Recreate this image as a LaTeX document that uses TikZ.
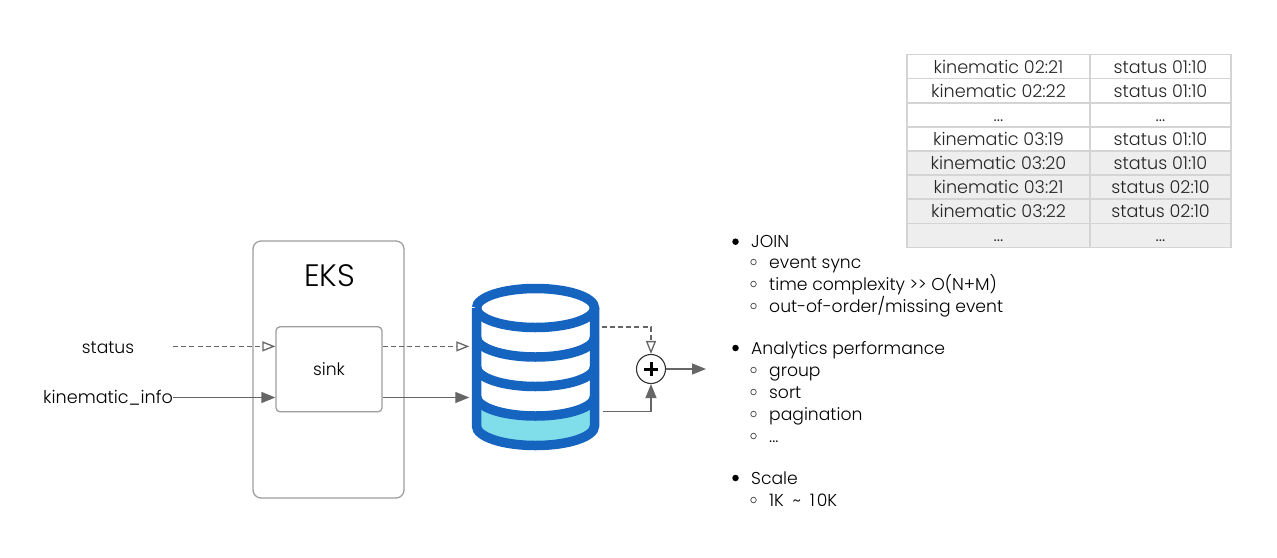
\documentclass[tikz,border=0pt]{standalone}
\usepackage{fontspec}
\setmainfont{Poppins Light}
\usetikzlibrary{arrows.meta}
\definecolor{arrowgray}{HTML}{666666}
\definecolor{boxgray}{HTML}{9E9E9E}
\definecolor{cellline}{HTML}{D4D4D4}
\definecolor{cellfill}{HTML}{EEEEEE}
\definecolor{dbblue}{HTML}{1565C0}
\definecolor{dbcyan}{HTML}{80DEEA}
\newcommand{\tdots}{{.}{.}{.}}
\tikzset{
  x=1pt,y=-1pt,
  conn/.style={draw=arrowgray,line width=1.3pt},
  solidarrow/.style={conn,-{Triangle[length=14pt,width=11pt,fill=arrowgray]}},
  openarrow/.style={conn,dash pattern=on 5pt off 3.2pt,-{Triangle[open,length=13pt,width=10pt,fill=white]}},
  plainbox/.style={draw=boxgray,line width=1.3pt,fill=white,rounded corners=4pt,inner sep=0pt},
  lbl/.style={font=\fontsize{17.2pt}{19pt}\selectfont,text=black,inner sep=0pt},
  item/.style={lbl,anchor=base west},
  dotfull/.style={circle,fill=black,minimum size=6.5pt,inner sep=0pt},
  dotopen/.style={circle,draw=black!75,line width=.7pt,minimum size=5.5pt,inner sep=0pt},
  cell/.style={draw=cellline,line width=1.5pt,minimum height=24.1pt,inner sep=0pt,text height=13pt,text depth=0pt,font=\fontsize{17.6pt}{19pt}\selectfont,text=black!85},
  cola/.style={cell,minimum width=183.5pt},
  colb/.style={cell,minimum width=141pt},
  shaded/.style={fill=cellfill},
  dbline/.style={draw=dbblue,line width=9.5pt},
}
\begin{document}
\begin{tikzpicture}
\useasboundingbox (0,0) rectangle (1277,557);
% table
\foreach \i/\a/\b/\s in {0/kinematic 02:21/status 01:10/,1/kinematic 02:22/status 01:10/,2/\tdots/\tdots/,3/kinematic 03:19/status 01:10/,4/kinematic 03:20/status 01:10/shaded,5/kinematic 03:21/status 02:10/shaded,6/kinematic 03:22/status 02:10/shaded,7/\tdots/\tdots/shaded}{
  \node[cola,\s] (ca\i) at (998.5,{66.6+24.1*\i}) {\a};
  \node[colb,\s] (cb\i) at (1160.5,{66.6+24.1*\i}) {\b};
}
% EKS
\node[plainbox,rounded corners=8pt,minimum width=151pt,minimum height=257pt] (eks) at (328.5,369.5) {};
\node[lbl,font=\fontsize{31pt}{34pt}\selectfont] (ekslabel) at (329.5,275.5) {EKS};
\node[plainbox,minimum width=106pt,minimum height=85pt] (sink) at (329,369.3) {\fontsize{17.2pt}{19pt}\selectfont sink};
% labels and ports
\node[lbl] (status) at (108,347.5) {status};
\node[lbl,anchor=east,font=\fontsize{17.6pt}{19pt}\selectfont] (kin) at (173,397.7) {kinematic\_info};
\coordinate (statusout) at (173,346.4);
\coordinate (kinout) at (173,397.5);
% database
\node[minimum width=132pt,minimum height=168pt,inner sep=0pt] (db) at (535.5,367) {};
\fill[white] (476.5,308) -- (476.5,396.5) arc[start angle=180,end angle=360,x radius=59,y radius=-19.5] -- (594.5,308) -- cycle;
\fill[dbcyan] (476.5,396.5) arc[start angle=180,end angle=360,x radius=59,y radius=-19.5] -- (594.5,426) arc[start angle=360,end angle=180,x radius=59,y radius=-19.5] -- cycle;
\draw[dbline] (476.5,308) arc[start angle=180,end angle=540,x radius=59,y radius=19.5];
\draw[dbline] (476.5,308) -- (476.5,426) arc[start angle=180,end angle=360,x radius=59,y radius=-19.5] -- (594.5,308);
\foreach \yy in {337.5,367,396.5}{
  \draw[dbline] (476.5,\yy) arc[start angle=180,end angle=360,x radius=59,y radius=-19.5];
}
% plus
\node[circle,draw=black!80,line width=1.1pt,fill=white,minimum size=29pt,inner sep=0pt] (plus) at (651,369) {};
\draw[line width=3pt,black] (plus.center) ++(-7,0) -- ++(14,0);
\draw[line width=3pt,black] (plus.center) ++(0,-7) -- ++(0,14);
\coordinate (dbdash) at (601.5,327);
\coordinate (dbsolid) at (603,411.7);
\coordinate (outend) at (706,369);
% connectors
\draw[openarrow] (statusout) -- (sink.west |- statusout);
\draw[solidarrow] (kinout) -- (sink.west |- kinout);
\draw[openarrow] (sink.east |- statusout) -- (db.west |- statusout);
\draw[solidarrow] (sink.east |- kinout) -- (db.west |- kinout);
\draw[openarrow] (dbdash) -| (plus.north);
\draw[solidarrow] (dbsolid) -| (plus.south);
\draw[solidarrow] (plus.east) -- (outend);
% list
\foreach \n/\yy/\t in {a/241.7/JOIN,b/348/Analytics performance,c/478/Scale}{
  \node[dotfull] (d\n) at (735.5,\yy) {};
  \node[item] (t\n) at (751,\yy+6.2) {\t};
}
\foreach \n/\yy/\t in {e/262/event sync,f/284/time complexity >{}> O(N+M),g/306/{out-of-order/missing event},h/370/group,i/392/sort,j/414/pagination,k/436/\tdots,l/500/1K\hspace{4pt} \textasciitilde{}\hspace{4pt} 1\hspace{2pt}0K}{
  \node[dotopen] (d\n) at (753.5,\yy) {};
  \node[item] (t\n) at (769,\yy+6.2) {\t};
}
\end{tikzpicture}
\end{document}
